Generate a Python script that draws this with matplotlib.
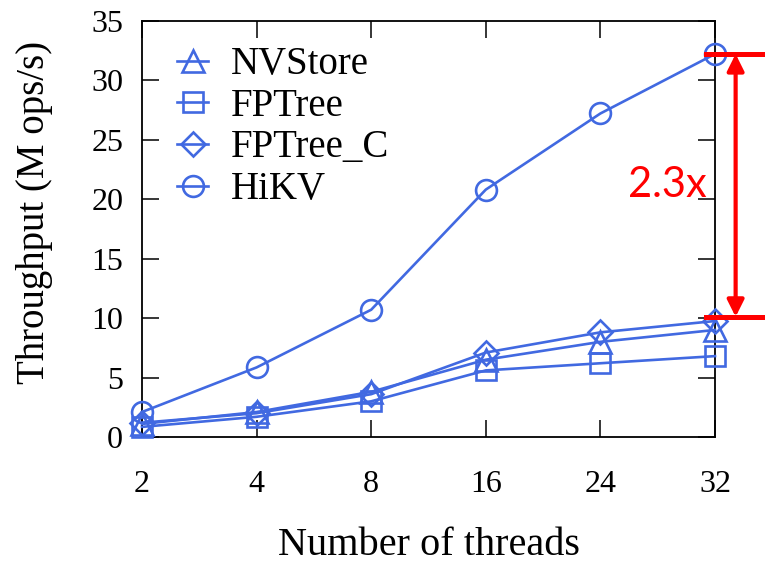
import matplotlib
matplotlib.use("Agg")
import matplotlib.pyplot as plt

threads = ["2", "4", "8", "16", "24", "32"]
nvstore = [1.1, 2.1, 3.8, 6.5, 8.0, 9.0]
fptree = [0.85, 1.7, 3.0, 5.6, 6.2, 6.8]
fptree_c = [1.2, 2.0, 3.6, 7.1, 8.8, 9.75]
hikv = [2.1, 5.85, 10.7, 20.8, 27.2, 32.2]
series_names = ["NVStore", "FPTree", "FPTree_C", "HiKV"]
markers = ["^", "s", "D", "o"]
yticks = [0, 5, 10, 15, 20, 25, 30, 35]

plt.rcParams['font.family'] = ['Liberation Serif', 'DejaVu Serif']
blue = "#4169E1"

fig = plt.figure(figsize=(7.65, 5.63), dpi=100)
ax = fig.add_axes([142/765, 1-437/563, (715-142)/765, (437-20.7)/563])

x = list(range(len(threads)))
msizes = [16, 14.5, 12, 15]
for name, vals, m, ms in zip(series_names, [nvstore, fptree, fptree_c, hikv], markers, msizes):
    ax.plot(x, vals, color=blue, lw=1.9, marker=m, markersize=ms,
            markerfacecolor='none', markeredgecolor=blue, markeredgewidth=1.9,
            clip_on=False, label=name, zorder=3)

ax.set_xlim(0, 5)
ax.set_ylim(0, 35)
ax.set_xticks(x)
ax.set_xticklabels(threads)
ax.set_yticks(yticks)
ax.tick_params(direction='in', length=12.5, width=1.1, labelsize=23,
               top=True, right=True)
ax.tick_params(axis='y', pad=13.5)
ax.tick_params(axis='x', pad=24)
for s in ax.spines.values():
    s.set_linewidth(1.3)
ax.set_xlabel("Number of threads", fontsize=29)
ax.set_ylabel("Throughput (M ops/s)", fontsize=28)
ax.xaxis.set_label_coords(0.5, -(527 - 437) / 416.3)
ax.yaxis.set_label_coords((53 - 142) / 573, (437 - 212) / 416.3)

ax.legend(loc='upper left', bbox_to_anchor=(0.021, 0.995), frameon=False,
          fontsize=28, handlelength=0.8, handletextpad=0.57, labelspacing=0.12,
          borderaxespad=0.2)

# annotation of the 2.3x gap
top_v = hikv[-1]
bot_v = 10.1
red = "#FF0000"
ax.plot([4.92, 5.45], [top_v, top_v], color=red, lw=3.6, clip_on=False, zorder=4)
ax.plot([4.92, 5.45], [bot_v, bot_v], color=red, lw=3.6, clip_on=False, zorder=4)
ax.annotate("", xy=(5.18, top_v), xytext=(5.18, bot_v),
            arrowprops=dict(arrowstyle="<|-|>", color=red, lw=3,
                            mutation_scale=25, shrinkA=0, shrinkB=0),
            annotation_clip=False)
ax.text(4.93, 21.2, "2.3x", color=red, fontsize=30, family=['Lato', 'DejaVu Sans'],
        ha='right', va='center')

fig.savefig("out.png", dpi=100)
